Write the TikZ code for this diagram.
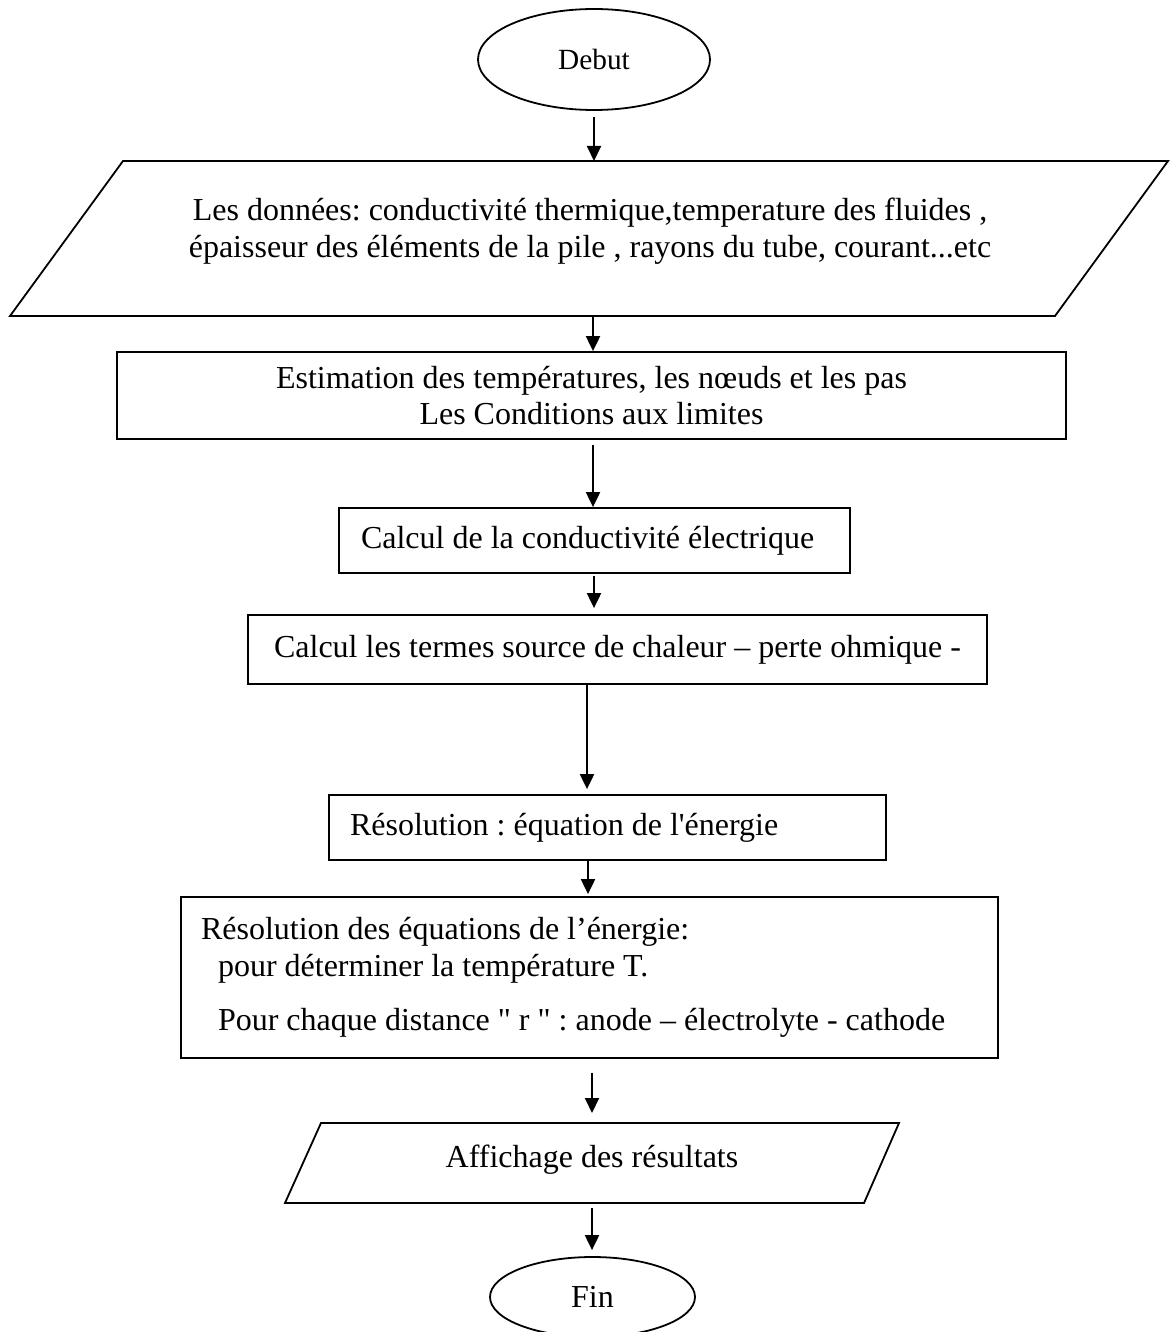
\documentclass[tikz,border=0pt]{standalone}
\usepackage{fontspec}
\setmainfont{Liberation Serif}[Ligatures=TeXOff]
\usetikzlibrary{shapes.geometric,arrows.meta}
\newcommand\fsbig{\fontsize{32}{36.8}\selectfont\frenchspacing}
\newcommand\fsdeb{\fontsize{29.3}{34}\selectfont}
\tikzset{
  box/.style={draw, line width=1.8pt, rectangle, inner ysep=0pt, font=\fsbig},
  term/.style={draw, line width=1.8pt, ellipse, inner sep=0pt},
  io/.style={draw, line width=1.8pt, line join=miter},
  txt/.style={inner sep=0pt, font=\fsbig, align=center},
  flow/.style={-{Triangle[length=15pt,width=14pt]}, line width=2pt},
}
\begin{document}
\begin{tikzpicture}[x=1pt,y=-1pt]
\useasboundingbox (0,0) rectangle (1169,1332);
\fill[white] (0,0) rectangle (1169,1332);
% Debut
\node[term, minimum width=232pt, minimum height=101pt, font=\fsdeb] (debut) at (594,59.5) {Debut};
% data parallelogram
\draw[io] (123,161) -- (1168,161) -- (1055,316) -- (10,316) -- cycle;
\coordinate (p1n) at (594,161);
\coordinate (p1s) at (593,316);
\node[txt] (data) at (590,231) {Les données: conductivité thermique,temperature des fluides ,\\épaisseur des éléments de la pile , rayons du tube, courant...etc};
% boxes
\node[box, minimum width=949pt, minimum height=87pt, align=center] (r1) at (591.5,395.5)
  {Estimation des températures, les nœuds et les pas\\Les Conditions aux limites};
\node[box, inner xsep=22pt, text width=467pt, minimum height=65pt, align=flush left] (r2) at (594.5,540.5)
  {Calcul de la conductivité électrique};
\node[box, minimum width=739pt, minimum height=69pt, align=center] (r3) at (617.5,649.5)
  {Calcul les termes source de chaleur – perte ohmique -};
\node[box, inner xsep=21pt, text width=515pt, minimum height=65pt, align=flush left] (r4) at (607.5,827.5)
  {Résolution : équation de l'énergie};
\node[box, inner xsep=20pt, text width=777pt, minimum height=161pt, align=flush left] (r5) at (589.5,977.5)
  {Résolution des équations de l’énergie:\\\hspace*{17pt}pour déterminer la température T.\\[18pt]\hspace*{17pt}Pour chaque distance " r " : anode – électrolyte - cathode};
% output parallelogram
\draw[io] (321,1123) -- (899,1123) -- (864,1203) -- (285,1203) -- cycle;
\coordinate (p2n) at (592,1123);
\coordinate (p2s) at (592,1203);
\node[txt] (out) at (592,1160) {Affichage des résultats};
% Fin
\node[term, minimum width=205pt, minimum height=80pt, font=\fsbig] (fin) at (592.5,1297) {Fin};
% arrows
\draw[flow, shorten <=6.5pt] (debut.south) -- (p1n);
\draw[flow] (p1s) -- ([xshift=1.5pt]r1.north);
\draw[flow, shorten <=5pt] ([xshift=1.5pt]r1.south) -- ([xshift=-1.5pt]r2.north);
\draw[flow, shorten <=2.5pt, shorten >=6pt] ([xshift=-0.5pt]r2.south) -- ([xshift=-23.5pt]r3.north);
\draw[flow, shorten >=5pt] ([xshift=-30.5pt]r3.south) -- ([xshift=-20.5pt]r4.north);
\draw[flow, shorten >=2pt] ([xshift=-19.5pt]r4.south) -- ([xshift=-1.5pt]r5.north);
\draw[flow, shorten <=14pt, shorten >=10pt] ([xshift=2.5pt]r5.south) -- (p2n);
\draw[flow, shorten <=5pt, shorten >=6pt] (p2s) -- ([xshift=-0.5pt]fin.north);
\end{tikzpicture}
\end{document}
